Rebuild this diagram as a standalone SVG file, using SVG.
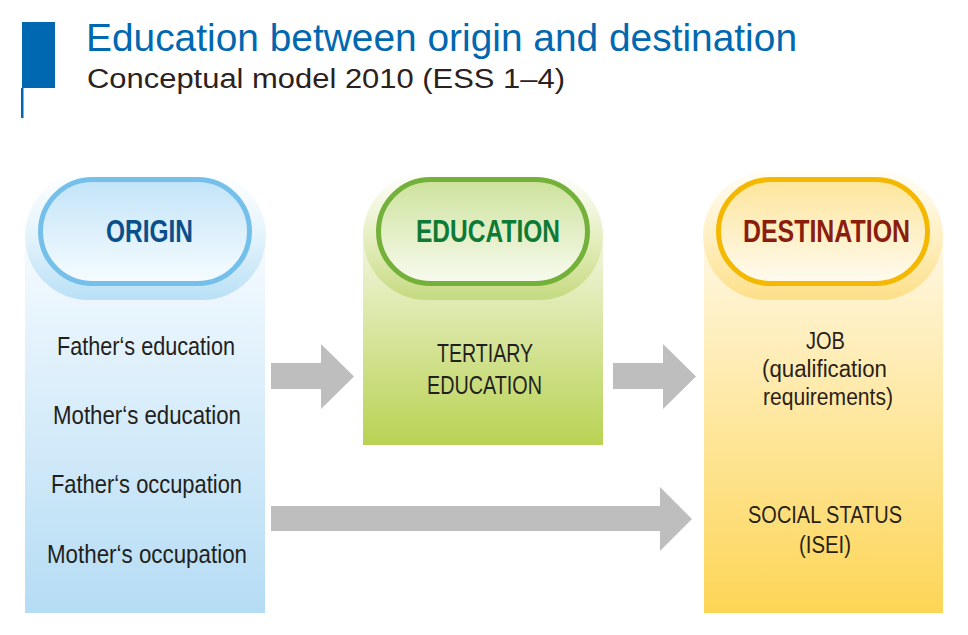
<svg xmlns="http://www.w3.org/2000/svg" width="968" height="635" viewBox="0 0 968 635">
<defs>
<linearGradient id="colO" x1="0" y1="0" x2="0" y2="1"><stop offset="0" stop-color="#f6fbff"/><stop offset="1" stop-color="#b5dcf4"/></linearGradient>
<linearGradient id="haloO" x1="0" y1="0" x2="0" y2="1"><stop offset="0" stop-color="#ffffff"/><stop offset="0.5" stop-color="#e4f3fc"/><stop offset="1" stop-color="#b9e0f6"/></linearGradient>
<linearGradient id="pillO" x1="0" y1="0" x2="0" y2="1"><stop offset="0" stop-color="#c2e4f8"/><stop offset="1" stop-color="#f7fcff"/></linearGradient>
<linearGradient id="colE" x1="0" y1="0" x2="0" y2="1"><stop offset="0" stop-color="#f2f6e0"/><stop offset="1" stop-color="#b9d253"/></linearGradient>
<linearGradient id="haloE" x1="0" y1="0" x2="0" y2="1"><stop offset="0" stop-color="#ffffff"/><stop offset="0.5" stop-color="#e6efc2"/><stop offset="1" stop-color="#c5da80"/></linearGradient>
<linearGradient id="pillE" x1="0" y1="0" x2="0" y2="1"><stop offset="0" stop-color="#cde29c"/><stop offset="1" stop-color="#f8fbef"/></linearGradient>
<linearGradient id="colD" x1="0" y1="0" x2="0" y2="1"><stop offset="0" stop-color="#fff8e4"/><stop offset="1" stop-color="#fdd556"/></linearGradient>
<linearGradient id="haloD" x1="0" y1="0" x2="0" y2="1"><stop offset="0" stop-color="#fffdf6"/><stop offset="0.5" stop-color="#fff0c4"/><stop offset="1" stop-color="#fddf88"/></linearGradient>
<linearGradient id="pillD" x1="0" y1="0" x2="0" y2="1"><stop offset="0" stop-color="#fde59a"/><stop offset="1" stop-color="#fffbf0"/></linearGradient>
</defs>
<style>
.title{font-family:"Liberation Sans",Arial,sans-serif;}
.head{font-family:"Liberation Sans",Arial,sans-serif;font-weight:bold;font-size:31px;text-anchor:middle;}
.body{font-family:"Liberation Sans",Arial,sans-serif;font-size:25px;fill:#231f20;text-anchor:middle;}
.dest{font-family:"Liberation Sans",Arial,sans-serif;font-size:23px;fill:#2a1f18;text-anchor:middle;}
.arrow{fill:#bebebe;}
</style>
<rect width="968" height="635" fill="#ffffff"/>
<g id="header">
<rect x="22" y="22" width="33" height="66" fill="#0068b1"/>
<rect x="21" y="88" width="2.5" height="30" fill="#0068b1"/>
<text class="title" x="86" y="51" font-size="38" fill="#0068b1" textLength="711" lengthAdjust="spacingAndGlyphs">Education between origin and destination</text>
<text class="title" x="87" y="88" font-size="27" fill="#2b2220" textLength="478" lengthAdjust="spacingAndGlyphs">Conceptual model 2010 (ESS 1–4)</text>
</g>
<g id="origin">
<rect x="25" y="236" width="240" height="377" fill="url(#colO)"/>
<rect x="25" y="172" width="241" height="128" rx="64" fill="url(#haloO)"/>
<rect x="40.5" y="179.5" width="209" height="104" rx="52" fill="url(#pillO)" stroke="#74c0ea" stroke-width="5"/>
<text class="head" x="149.5" y="242" fill="#0b4f8a" textLength="87" lengthAdjust="spacingAndGlyphs">ORIGIN</text>
<text class="body" x="146" y="355" textLength="178" lengthAdjust="spacingAndGlyphs">Father‘s education</text>
<text class="body" x="147" y="424" textLength="188" lengthAdjust="spacingAndGlyphs">Mother‘s education</text>
<text class="body" x="146.5" y="493" textLength="191" lengthAdjust="spacingAndGlyphs">Father‘s occupation</text>
<text class="body" x="147" y="563" textLength="200" lengthAdjust="spacingAndGlyphs">Mother‘s occupation</text>
</g>
<g id="education">
<rect x="363" y="236" width="240" height="209" fill="url(#colE)"/>
<rect x="363" y="172" width="240" height="128" rx="64" fill="url(#haloE)"/>
<rect x="378.5" y="179.5" width="209" height="104" rx="52" fill="url(#pillE)" stroke="#74b13a" stroke-width="5"/>
<text class="head" x="488" y="242" fill="#0d7a35" textLength="144" lengthAdjust="spacingAndGlyphs">EDUCATION</text>
<text class="body" x="485" y="362" textLength="96" lengthAdjust="spacingAndGlyphs">TERTIARY</text>
<text class="body" x="484.5" y="394" textLength="115" lengthAdjust="spacingAndGlyphs">EDUCATION</text>
</g>
<g id="destination">
<rect x="704" y="236" width="239" height="377" fill="url(#colD)"/>
<rect x="703" y="172" width="240" height="128" rx="64" fill="url(#haloD)"/>
<rect x="718.5" y="179.5" width="209" height="104" rx="52" fill="url(#pillD)" stroke="#f5b800" stroke-width="5"/>
<text class="head" x="826.5" y="242" fill="#8b1d0c" textLength="167" lengthAdjust="spacingAndGlyphs">DESTINATION</text>
<text class="dest" x="825.5" y="349" textLength="39" lengthAdjust="spacingAndGlyphs">JOB</text>
<text class="dest" x="824.5" y="377" textLength="125" lengthAdjust="spacingAndGlyphs">(qualification</text>
<text class="dest" x="828" y="405" textLength="130" lengthAdjust="spacingAndGlyphs">requirements)</text>
<text class="dest" x="825" y="523" textLength="154" lengthAdjust="spacingAndGlyphs">SOCIAL STATUS</text>
<text class="dest" x="825" y="553" textLength="52" lengthAdjust="spacingAndGlyphs">(ISEI)</text>
</g>
<g id="connectors">
<polygon class="arrow" points="271,363 321,363 321,344 354,376.5 321,409 321,389 271,389"/>
<polygon class="arrow" points="613,363 663,363 663,344 696,376.5 663,409 663,389 613,389"/>
<polygon class="arrow" points="271,506 660,506 660,487 692,519 660,551 660,531 271,531"/>
</g>
</svg>
